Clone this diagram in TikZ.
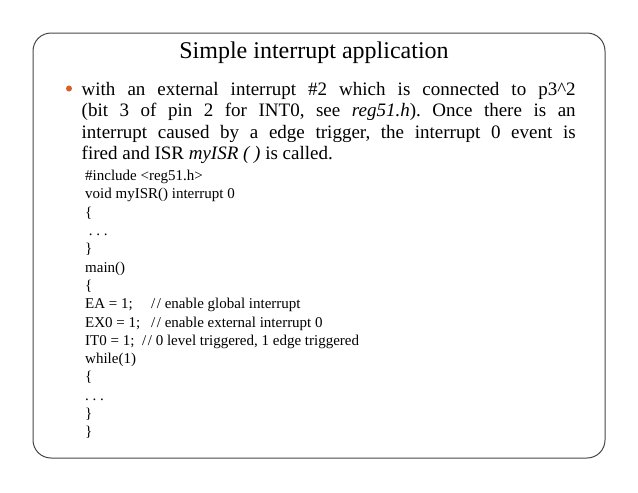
\documentclass[tikz,border=0pt]{standalone}
\usepackage{fontspec}
\setmainfont{Liberation Serif}
\frenchspacing
\definecolor{bulletorange}{RGB}{214,96,38}
\definecolor{framegray}{RGB}{70,70,70}
\newcommand{\cmt}{/\kern1.5pt/}

\begin{document}
\begin{tikzpicture}[x=1pt, y=-1pt, inner sep=0pt]
\useasboundingbox (0,0) rectangle (638,493);

% slide frame
\draw[framegray, line width=1pt, rounded corners=18pt] (33,33) rectangle (605,458);

% title
\node[anchor=base, font=\fontsize{24}{28}\selectfont] (title) at (314,58) {Simple interrupt application};

% bullet text
\fill[bulletorange] (69,88.5) circle (3pt);
\node[anchor=north west, text width=494pt, align=justify,
      font=\fontsize{19}{21.4}\selectfont] (body) at (81.5,82)
  {with an external interrupt \#2 which is connected to p3\^{}2\linebreak
   (bit 3 of pin 2 for INT0, see \textit{reg51.h}). Once there is an\linebreak
   interrupt caused by a edge trigger, the interrupt 0 event is\linebreak
   fired and ISR \textit{myISR ( )} is called.};

% code lines
\node[anchor=north west, align=left, font=\fontsize{15}{18.3}\selectfont] (code) at (85,170)
  {\#include <reg51.h>\\
   void myISR() interrupt 0\\
   \{\\
   \ . . .\\
   \}\\
   main()\\
   \{\\
   \makebox[66pt][l]{EA = 1;}\cmt{} enable global interrupt\\
   \makebox[66pt][l]{EX0 = 1;}\cmt{} enable external interrupt 0\\
   \makebox[57pt][l]{IT0 = 1;}\cmt{} 0 level triggered, 1 edge triggered\\
   while(1)\\
   \{\\
   . . .\\
   \}\\
   \}};
\end{tikzpicture}
\end{document}
